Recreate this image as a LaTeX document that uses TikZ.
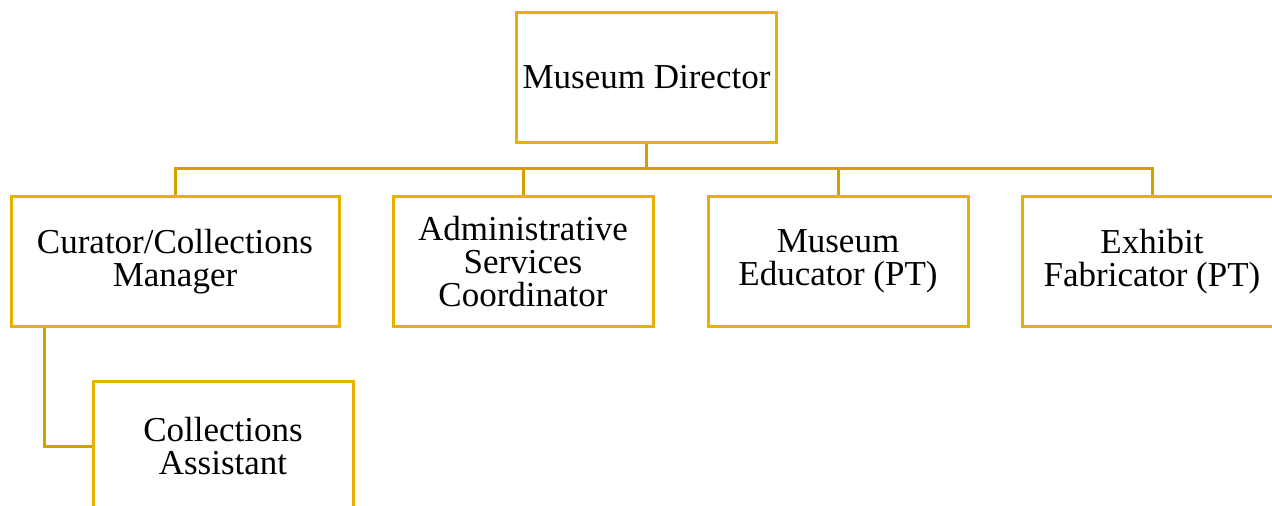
\documentclass[tikz,border=0pt]{standalone}
\usepackage{fontspec}
\setmainfont{Liberation Serif}
\definecolor{boxgold}{HTML}{E8B100}
\definecolor{linegold}{HTML}{D4A000}
\tikzset{
  orgbox/.style={draw=boxgold, line width=3pt, fill=white, inner sep=0pt,
    minimum width=260pt, minimum height=130pt, align=center,
    font=\fontsize{35}{33}\selectfont},
  orgline/.style={draw=linegold, line width=3pt}
}
\begin{document}
\begin{tikzpicture}[x=1pt,y=-1pt]
\useasboundingbox (0,0) rectangle (1272,506);
\node[orgbox] (dir) at (646.5,77) {Museum Director};
\node[orgbox, minimum width=328pt] (b1) at (175,261.5) {Curator/Collections\\Manager};
\node[orgbox] (b2) at (523,261.5) {Administrative\\Services\\Coordinator};
\node[orgbox] (b3) at (838,261.5) {Museum\\Educator (PT)};
\node[orgbox] (b4) at (1152,261.5) {Exhibit\\Fabricator (PT)};
\node[orgbox] (asst) at (223,446) {Collections\\Assistant};
\coordinate (bus) at (646.5,168);
\draw[orgline] (dir.south) -- (bus);
\draw[orgline] (b1.north) |- (bus) -| (b4.north);
\draw[orgline] (b2.north) -- (b2.north |- bus);
\draw[orgline] (b3.north) -- (b3.north |- bus);
\draw[orgline] ([xshift=-131pt]b1.south) |- (asst.west);
\end{tikzpicture}
\end{document}
